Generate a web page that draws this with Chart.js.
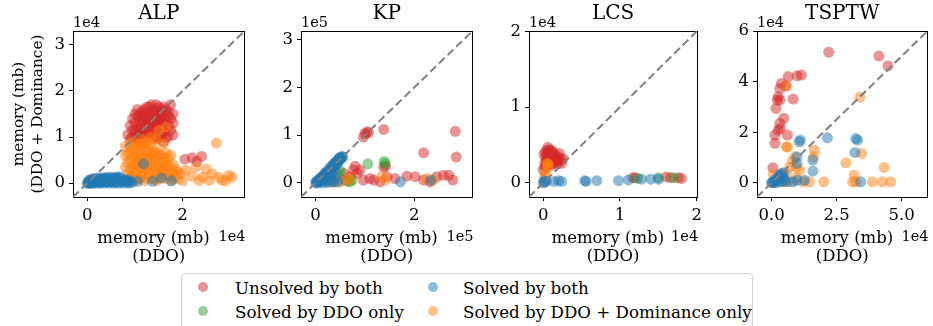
<!DOCTYPE html>
<html>
<head>
<meta charset="utf-8">
<script src="https://cdn.jsdelivr.net/npm/chart.js@4.4.0/dist/chart.umd.min.js"></script>
<style>
  html, body { margin: 0; padding: 0; background: #fff; overflow: hidden; }
  #fig { position: relative; width: 933px; height: 326px; font-family: 'DejaVu Serif', serif; }
  #fig canvas { position: absolute; top: 0; }
  .legend { position: absolute; left: 181px; top: 273px; width: 572px; height: 70px; box-sizing: border-box;
            border: 1px solid #d3d3d3; border-radius: 4px; background: #fff; }
  .item { position: absolute; font-size: 16.7px; line-height: 20px; height: 20px; white-space: nowrap; color: #000; }
  .dot { position: absolute; width: 10px; height: 10px; border-radius: 50%; }
</style>
</head>
<body>
<div id="fig"></div>
<script>
// panel titles, categories, colours
const titles = ['ALP', 'KP', 'LCS', 'TSPTW'];
const categories = ['Unsolved by both', 'Solved by DDO only', 'Solved by both', 'Solved by DDO + Dominance only'];
const colors = ['#d62728', '#2ca02c', '#1f77b4', '#ff7f0e'];
const offsetLabels = ['1e4', '1e5', '1e4', '1e4'];

// axis limits (same on x and y) and ticks
const limits = [[-3000, 33000], [-29500, 318000], [-1850, 20050], [-5600, 60000]];
const xTicks = [[0, 20000], [0, 200000], [0, 10000, 20000], [0, 25000, 50000]];
const xTickLabels = [['0', '2'], ['0', '2'], ['0', '1', '2'], ['0.0', '2.5', '5.0']];
const yTicks = [[0, 10000, 20000, 30000], [0, 100000, 200000, 300000], [0, 10000, 20000], [0, 20000, 40000, 60000]];
const yTickLabels = [['0', '1', '2', '3'], ['0', '1', '2', '3'], ['0', '1', '2'], ['0', '2', '4', '6']];

// [memory DDO, memory DDO + Dominance] in mb
const alpUnsolved = [[8500,10500],[9000,9500],[9500,11500],[10000,13000],[10000,10000],[10500,14500],[11000,12000],[11000,9000],[11500,15500],[11500,13500],[12000,10500],[12000,16000],[12500,14000],[12500,12000],[13000,15000],[13000,10000],[13000,16500],[13500,13000],[13500,15500],[14000,14500],[14000,11500],[14000,16000],[14500,13500],[14500,9500],[15000,15000],[15000,12500],[15000,16500],[15500,14000],[15500,10500],[16000,15500],[16000,13000],[16500,12000],[16500,16000],[17000,14500],[17000,10000],[17500,17000],[17500,11500],[18000,13000],[10500,16000],[9500,14000],[12000,8500],[16000,9000],[13500,17000],[12500,16500],[14500,17000],[15500,16000],[11000,15000],[11500,11000],[18000,10500],[10000,15000],
  [9000,12500],[9500,10000],[10000,11500],[10500,9500],[10500,12500],[11000,13500],[11000,10500],[11500,12500],[11500,9500],[12000,14500],[12000,11500],[12500,13000],[12500,10500],[13000,11500],[13000,14000],[13500,12000],[13500,10500],[14000,13000],[14000,10000],[14500,15500],[14500,12000],[15000,13500],[15000,10000],[15500,12500],[15500,15000],[16000,11000],[16000,14000],[16500,13500],[16500,10000],[17000,12500],[17000,15500],[17500,14000],[18000,15000],[12000,15000],[13000,13000],[14000,15000],[15000,14500],[16000,16500],[11500,14500],[10500,11000],
  [20500,5200],[22000,5500],[24000,5800],[23000,4700]];
const alpDdoOnly = [];
const alpBoth = [[0,0],[200,100],[400,300],[600,0],[800,200],[1000,500],[1300,100],[1500,400],[1800,200],[2000,600],[2300,300],[2500,100],[2800,500],[3000,800],[3200,200],[3500,400],[3700,900],[4000,300],[4200,600],[4500,200],[4800,700],[5000,400],[5300,1000],[5500,300],[5800,600],[6000,200],[6300,800],[6500,500],[6800,1100],[7000,300],[7300,700],[7500,400],[7800,900],[8000,200],[8300,600],[8600,300],[9000,500],[9300,200],[100,0],[300,600],[700,800],[1200,1000],[1700,900],[2200,1100],[2700,1000],[3300,1200],[3900,1200],[4400,1300],[5100,1300],[5700,1200],[6200,1300],[6700,1400],[500,200],[900,0],[1600,0],[2600,0],[3600,0],[4600,0],[5600,0],[6600,0],[7600,0],[8800,0],[10600,400],[11800,4200],[13700,400],[15600,1100],[17700,500]];
const alpDominanceOnly = [[8000,6000],[8000,8000],[8500,4500],[9000,7000],[9000,3000],[9500,5500],[9500,9000],[10000,4000],[10000,7500],[10000,1500],[10500,6000],[10500,3000],[11000,8500],[11000,5000],[11000,1000],[11500,6500],[11500,2500],[12000,7500],[12000,4500],[12000,500],[12500,5500],[12500,2000],[13000,8500],[13000,3500],[13000,6000],[13500,1000],[13500,4500],[14000,7000],[14000,2500],[14500,5000],[14500,500],[15000,3500],[15000,6500],[15500,1500],[15500,4500],[16000,3000],[16000,5500],[16500,1000],[17000,2500],[17000,4000],[17500,500],[18000,2000],[18500,3000],[19000,1000],[19500,2000],[20000,500],[13400,10000],[14400,9600],[16500,12200],[15000,11500],[16000,8500],[20700,2800],[22800,3500],[24200,1300],[26200,2000],[27600,1300],[29700,1700],[30400,1300],[23500,600],[25600,600],[28300,600],[27100,8700],[22000,1500],[25000,3000],[29000,500],[10000,500],[9000,1000],[17500,6000],[11500,9500],[12500,9000],
  [8500,6500],[8500,2000],[9000,5000],[9000,8500],[9500,3500],[9500,7500],[10000,6000],[10000,2500],[10500,8000],[10500,4500],[10500,1000],[11000,7000],[11000,3500],[11500,4500],[11500,8500],[11500,1500],[12000,6000],[12000,3000],[12500,7000],[12500,4000],[12500,1000],[13000,5000],[13000,2000],[13500,6500],[13500,3000],[13500,8000],[14000,5500],[14000,1000],[14500,3500],[14500,6500],[14500,2000],[15000,5000],[15000,1000],[15500,3000],[15500,6000],[16000,2000],[16000,4500],[16500,3500],[16500,6500],[17000,1500],[17000,5500],[17500,3000],[18000,4000],[18000,1000],[18500,1500],[19000,2500],[8000,3500],[9500,1500]];

const kpUnsolved = [[97000,96000],[104000,107000],[100000,103000],[107000,105000],[138000,112000],[219000,63000],[283000,108000],[285000,54000],[138000,33000],[77000,27000],[84000,20000],[90000,27000],[60000,6000],[97000,6000],[110000,9000],[145000,13000],[161000,9000],[185000,14000],[202000,13000],[219000,6000],[246000,13000],[259000,16000],[270000,16000],[278000,6000],[232000,2000],[131000,2000],[118000,6000],[70000,13000],[57000,20000],[36000,2000],[80000,35000],[142000,35000]];
const kpDdoOnly = [[50000,25000],[106000,40000],[139000,45000],[141000,40000],[70000,2000],[74000,6000],[64000,4000],[30000,13000],[43000,2000],[45000,20000]];
const kpBoth = [[0,0],[2000,1000],[5000,3000],[8000,6000],[10000,10000],[12000,8000],[15000,14000],[18000,16000],[20000,20000],[22000,18000],[25000,23000],[28000,27000],[30000,25000],[32000,30000],[35000,33000],[38000,36000],[40000,40000],[42000,38000],[45000,44000],[48000,47000],[50000,50000],[53000,53000],[5000,0],[10000,2000],[15000,0],[20000,4000],[25000,1000],[30000,5000],[35000,2000],[45000,3000],[12000,12000],[2000,4000],[26000,18000],[30000,33000],[36000,40000],[42000,45000],[47000,52000],[53000,56000],
  [6000,5000],[9000,9000],[14000,12000],[17000,18000],[21000,22000],[24000,25000],[27000,24000],[33000,35000],[37000,34000],[41000,43000],[44000,41000],[47000,49000],[51000,53000],[55000,54000],[3000,2000],[7000,3000],[18000,10000],[23000,12000],[28000,15000],[33000,20000],[38000,25000],[40000,10000],[16000,6000],
  [172000,2000],[234000,6000]];
const kpDominanceOnly = [[134000,13000],[141000,6000],[226000,9000],[64000,6000],[50000,2000],[23000,2000],[239000,6000],[9000,6000],[36000,13000],[70000,8000]];

const lcsUnsolved = [[600,4700],[900,3900],[300,3400],[1300,3400],[2100,3900],[2600,3200],[200,2100],[600,2500],[1700,3000],[500,4300],[1100,3000],[0,1700],[1500,3600],[2100,2800],[800,4400],[400,2800],[1200,4100],[1800,2500],
  [100,3800],[300,4100],[500,3600],[700,3200],[900,2900],[1000,3600],[1300,2600],[1600,3300],[1900,3500],[2300,3100],[2400,2600],[700,4000],[400,2300],[1000,2300],[1400,3900],[2000,3000],[200,2600],[600,3000],[1100,4300],[1600,2700],
  [11700,700],[12000,700],[16000,800],[16600,700],[17600,700],[18000,600]];
const lcsDdoOnly = [[12300,600],[15000,700],[17000,700]];
const lcsBoth = [[0,0],[200,100],[400,200],[100,300],[1400,200],[2000,300],[2400,200],[5400,300],[5600,200],[7000,300],[9800,300],[11100,400],[12800,500],[14000,500],[15000,500]];
const lcsDominanceOnly = [[600,2500],[700,2400],[500,2600],[300,1200],[500,2000],[200,800]];

const tsptwUnsolved = [[22000,51600],[41300,50100],[44800,46200],[9800,42300],[11500,42600],[6400,42000],[3800,39300],[3200,37300],[2500,34000],[2200,32700],[3200,32700],[8300,33100],[1700,29400],[4700,25500],[3200,23500],[2500,20800],[6100,18900],[1300,18900],[1300,15600],[3400,21500],[500,6000],[5500,38300]];
const tsptwDdoOnly = [];
const tsptwBoth = [[11100,16900],[10600,16200],[21500,17800],[32400,17500],[33100,16900],[32100,12000],[15900,9000],[15900,4600],[9800,10300],[9800,7700],[9800,1000],[12700,1000],[8300,400],[34300,400],[0,0],[600,400],[1300,1000],[1900,1700],[2500,2400],[3200,3000],[3800,3700],[4500,2400],[5100,1000],[1900,0],[3800,400],[5700,400],[200,100],[1000,200],[2800,1000],[4500,4000]];
const tsptwDominanceOnly = [[5700,38300],[34000,33800],[6100,14200],[5700,14200],[16500,12900],[16200,10300],[8900,10300],[9500,6300],[7000,6300],[5700,3700],[10800,5000],[28600,7900],[34600,11600],[31800,3000],[43300,6100],[20100,400],[38800,400],[42600,400],[45800,400],[31200,400],[32400,400],[14600,400],[12100,400],[7000,400],[600,3500],[4500,400],[9500,2000],[8000,8500]];

const panelSeries = [
  [alpUnsolved, alpDdoOnly, alpBoth, alpDominanceOnly],
  [kpUnsolved, kpDdoOnly, kpBoth, kpDominanceOnly],
  [lcsUnsolved, lcsDdoOnly, lcsBoth, lcsDominanceOnly],
  [tsptwUnsolved, tsptwDdoOnly, tsptwBoth, tsptwDominanceOnly]
];

// layout (pixels)
const plotLeft = [73, 301, 529, 757];
const plotRight = [245, 473, 702, 928];
const canvasH = 272, plotTop = 31, plotBottom = 197;
const drawOrder = [4, 3, 1, 2]; // red bottom, blue on top

function rgba(hex, a) {
  const n = parseInt(hex.slice(1), 16);
  return `rgba(${n >> 16},${(n >> 8) & 255},${n & 255},${a})`;
}
const serif = "'DejaVu Serif', serif";
const font = (size, lh) => ({ family: serif, size: size, lineHeight: lh || 1.2 });

const offsetText = {
  id: 'offsetText',
  afterDraw(chart, args, opts) {
    const { ctx, chartArea } = chart;
    ctx.save();
    ctx.font = '14.5px ' + serif;
    ctx.fillStyle = '#000';
    ctx.textBaseline = 'alphabetic';
    ctx.textAlign = 'left';
    ctx.fillText(opts.text, chartArea.left, chartArea.top - 4);
    ctx.textAlign = 'right';
    ctx.fillText(opts.text, chartArea.right + 1, chartArea.bottom + 44);
    ctx.restore();
  }
};

const fig = document.getElementById('fig');

titles.forEach((title, i) => {
  const left = i === 0 ? 0 : plotLeft[i] - 40;
  const yAxisW = plotLeft[i] - left;
  const canvas = document.createElement('canvas');
  canvas.width = plotRight[i] + 5 - left;
  canvas.height = canvasH;
  canvas.style.left = left + 'px';
  fig.appendChild(canvas);

  const lim = limits[i];
  const datasets = panelSeries[i].map((pts, k) => ({
    label: categories[k],
    data: pts.map(p => ({ x: p[0], y: p[1] })),
    backgroundColor: rgba(colors[k], 0.5),
    pointRadius: 5.5,
    pointHoverRadius: 5.5,
    pointBorderWidth: 0,
    order: drawOrder[k]
  }));
  datasets.push({
    type: 'line',
    label: 'y = x',
    data: [{ x: lim[0], y: lim[0] }, { x: lim[1], y: lim[1] }],
    borderColor: '#808080',
    borderWidth: 2,
    borderDash: [8, 4],
    pointRadius: 0,
    fill: false,
    order: 0
  });

  const frame = {
    type: 'linear', min: lim[0], max: lim[1],
    ticks: { display: false },
    grid: { drawOnChartArea: false, drawTicks: false },
    border: { color: '#000', width: 1 }
  };

  new Chart(canvas, {
    type: 'scatter',
    data: { datasets: datasets },
    options: {
      responsive: false,
      animation: false,
      events: [],
      layout: { padding: { left: 0, right: 5, top: 0, bottom: 0 } },
      plugins: {
        legend: { display: false },
        tooltip: { enabled: false },
        offsetText: { text: offsetLabels[i] }
      },
      scales: {
        x: {
          type: 'linear', position: 'bottom', min: lim[0], max: lim[1],
          afterBuildTicks: s => { s.ticks = xTicks[i].map(v => ({ value: v })); },
          afterFit: s => { s.height = canvasH - plotBottom; },
          ticks: {
            font: font(16.5), color: '#000', padding: 5, maxRotation: 0, autoSkip: false,
            callback: v => xTickLabels[i][xTicks[i].indexOf(v)]
          },
          grid: { drawOnChartArea: false, drawTicks: true, tickLength: 4, tickColor: '#000', tickWidth: 1 },
          border: { color: '#000', width: 1 },
          title: { display: true, text: ['memory (mb)  ', '(DDO)'], font: font(16.5, 1.1), color: '#000', padding: { top: 0, bottom: 6.3 } }
        },
        y: {
          type: 'linear', position: 'left', min: lim[0], max: lim[1],
          afterBuildTicks: s => { s.ticks = yTicks[i].map(v => ({ value: v })); },
          afterFit: s => { s.width = yAxisW; },
          ticks: {
            font: font(16.5), color: '#000', padding: 4, autoSkip: false,
            callback: v => yTickLabels[i][yTicks[i].indexOf(v)]
          },
          grid: { drawOnChartArea: false, drawTicks: true, tickLength: 4, tickColor: '#000', tickWidth: 1 },
          border: { color: '#000', width: 1 },
          title: {
            display: i === 0, text: ['memory (mb)', '(DDO + Dominance)'], font: font(15.3), color: '#000',
            padding: { top: 10, bottom: 0 }
          }
        },
        xt: Object.assign({}, frame, {
          position: 'top',
          afterFit: s => { s.height = plotTop; },
          title: { display: true, text: title, font: font(20), color: '#000', padding: { top: 1.8, bottom: 0 } }
        }),
        yr: Object.assign({}, frame, {
          position: 'right',
          afterFit: s => { s.width = 0; }
        })
      }
    },
    plugins: [offsetText]
  });
});

// legend, two columns filled column by column
const legend = document.createElement('div');
legend.className = 'legend';
fig.appendChild(legend);
const colX = [[203, 235], [433, 463]];
const rowY = [287, 311];
categories.forEach((name, k) => {
  const col = Math.floor(k / 2), row = k % 2;
  const dot = document.createElement('div');
  dot.className = 'dot';
  dot.style.background = rgba(colors[k], 0.5);
  dot.style.left = (colX[col][0] - 5 - 182) + 'px';
  dot.style.top = (rowY[row] - 5 - 274) + 'px';
  legend.appendChild(dot);
  const item = document.createElement('div');
  item.className = 'item';
  item.textContent = name;
  item.style.left = (colX[col][1] - 182) + 'px';
  item.style.top = (rowY[row] - 10 - 274 + 0.5) + 'px';
  legend.appendChild(item);
});
</script>
</body>
</html>
